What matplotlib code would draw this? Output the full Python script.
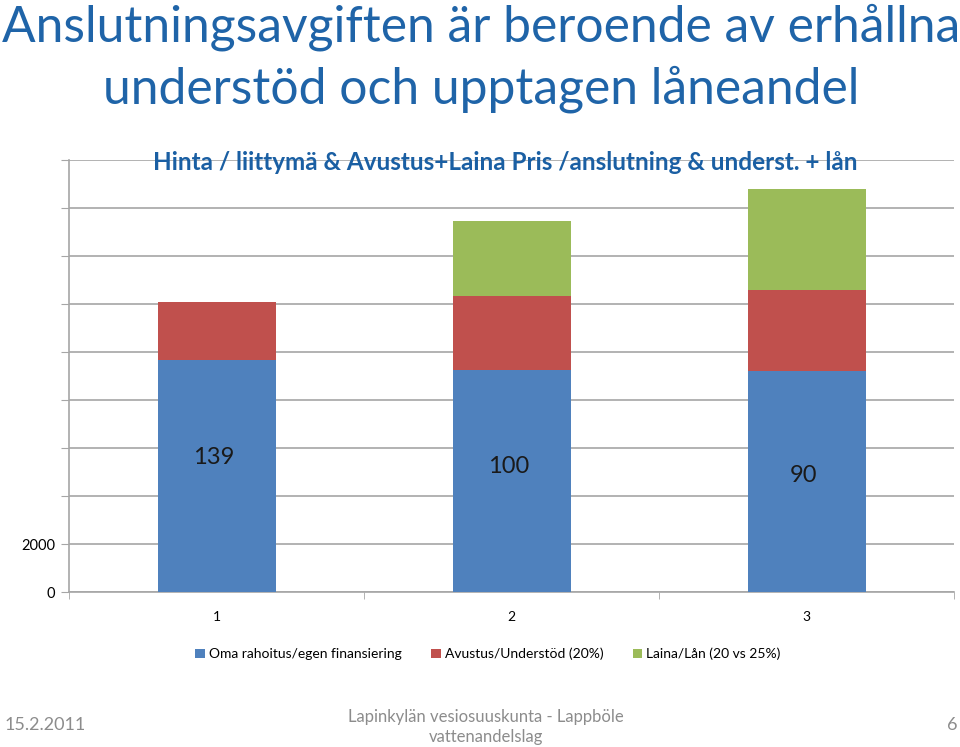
import numpy as np
import matplotlib
matplotlib.use("Agg")
import matplotlib.pyplot as plt
from matplotlib.ticker import FixedLocator

plt.rcParams['font.family'] = ['Lato', 'DejaVu Sans']

categories = ["1", "2", "3"]
own_funding = [9660, 9260, 9220]
grant = [2410, 3080, 3350]
loan = [0, 3100, 4210]
bar_notes = ["139", "100", "90"]
note_y = [5600, 5220, 4870]
series_names = ["Oma rahoitus/egen finansiering",
                "Avustus/Understöd (20%)",
                "Laina/Lån (20 vs 25%)"]
yticks = np.arange(0, 18001, 2000)
ytick_labels = ["0", "2000"] + [""] * (len(yticks) - 2)

blue, red, green = "#4F81BD", "#C0504D", "#9BBB59"
title_col = "#1F64A8"
grid_col = "#A6A6A6"

fig = plt.figure(figsize=(9.6, 7.47), dpi=100)
fig.patch.set_facecolor("white")
ax = fig.add_axes([69 / 960, 1 - 592 / 747, (954 - 69) / 960, (592 - 160) / 747])

x = np.arange(len(categories))
w = 0.4
bottom2 = np.array(own_funding) + np.array(grant)
ax.bar(x, own_funding, w, color=blue, label=series_names[0], zorder=3)
ax.bar(x, grant, w, bottom=own_funding, color=red, label=series_names[1], zorder=3)
ax.bar(x, loan, w, bottom=bottom2, color=green, label=series_names[2], zorder=3)

for xi, note, ny in zip(x, bar_notes, note_y):
    ax.text(xi - 0.01, ny, note, ha="center", va="center", fontsize=17, color="#1a1a1a", zorder=4)

ax.set_xlim(-0.5, len(categories) - 0.5)
ax.set_ylim(0, 18000)
ax.set_yticks(yticks)
ax.set_yticklabels(ytick_labels)
ax.yaxis.grid(True, color=grid_col, linewidth=1.2, zorder=0)
ax.set_xticks(x)
ax.set_xticklabels(categories)
ax.xaxis.set_minor_locator(FixedLocator(np.arange(-0.5, len(categories), 1.0)))
ax.tick_params(axis="x", which="major", length=0, pad=14, labelsize=10)
ax.tick_params(axis="x", which="minor", length=5, color=grid_col, direction="out")
ax.tick_params(axis="y", length=6, color=grid_col, labelsize=10.5, pad=4)
for side in ["top", "right"]:
    ax.spines[side].set_visible(False)
for side in ["left", "bottom"]:
    ax.spines[side].set_color(grid_col)
    ax.spines[side].set_linewidth(1.2)

ax.legend(loc="center", bbox_to_anchor=(488 / 960, 1 - 654 / 747), bbox_transform=fig.transFigure,
          ncol=3, frameon=False, fontsize=10, handlelength=0.7, handleheight=0.7,
          handletextpad=0.3, columnspacing=2.1)

fig.text(481 / 960, 1 - 27 / 747, "Anslutningsavgiften är beroende av erhållna", ha="center", va="center",
         fontsize=35.8, color=title_col)
fig.text(481 / 960, 1 - 89 / 747, "understöd och upptagen låneandel", ha="center", va="center",
         fontsize=35.8, color=title_col)
fig.text(505 / 960, 1 - 163 / 747, "Hinta / liittymä & Avustus+Laina Pris /anslutning & underst. + lån",
         ha="center", va="center", fontsize=17.5, fontweight="bold", color="#1A5FA3")

foot_col = "#8C8C8C"
fig.text(5 / 960, 1 - 725 / 747, "15.2.2011", ha="left", va="center", fontsize=13, color=foot_col)
fig.text(486 / 960, 1 - 727 / 747, "Lapinkylän vesiosuuskunta - Lappböle\nvattenandelslag",
         ha="center", va="center", fontsize=12, color=foot_col, linespacing=1.25)
fig.text(957 / 960, 1 - 725 / 747, "6", ha="right", va="center", fontsize=13, color=foot_col)

fig.savefig("out.png", dpi=100, facecolor="white")
